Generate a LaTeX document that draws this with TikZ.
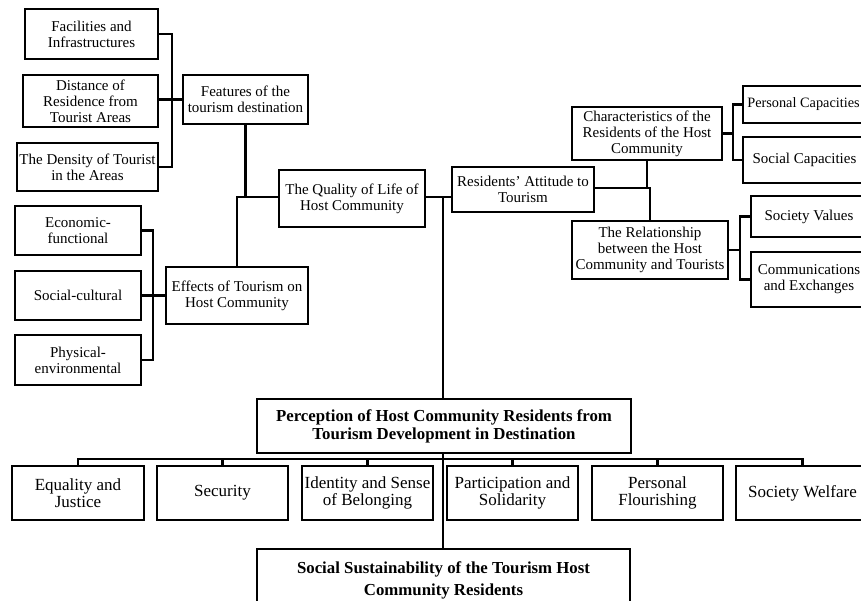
\documentclass[tikz,border=0pt]{standalone}
\usepackage{fontspec}
\setmainfont{Liberation Serif}
\begin{document}
\begin{tikzpicture}[x=1pt,y=-1pt,
  box/.style={draw=black,line width=1.7pt,inner sep=0pt,align=center,fill=white},
  topbox/.style={box,font=\fontsize{15}{16}\selectfont},
  subbox/.style={box,font=\fontsize{17}{17.5}\selectfont,minimum width=131pt,minimum height=54pt},
  boldbox/.style={box,font=\fontsize{16.8}{18}\selectfont\bfseries},
  link/.style={draw=black,line width=2.3pt}]
\useasboundingbox (0,0) rectangle (861,601);
\clip (0,0) rectangle (861,601);
% left upper group
\node[topbox,minimum width=133pt,minimum height=50pt] (fac) at (91.5,34) {Facilities and\\Infrastructures};
\node[topbox,minimum width=135pt,minimum height=52pt] (dist) at (90.5,101) {Distance of\\Residence from\\Tourist Areas};
\node[topbox,minimum width=141pt,minimum height=48pt] (dens) at (87.5,167) {The Density of Tourist\\in the Areas};
\node[topbox,minimum width=125pt,minimum height=49pt] (feat) at (245.5,99.5) {Features of the\\tourism destination};
% left lower group
\node[topbox,minimum width=126pt,minimum height=49pt] (econ) at (78,230.5) {Economic-\\functional};
\node[topbox,minimum width=126pt,minimum height=49pt] (socc) at (78,295.5) {Social-cultural};
\node[topbox,minimum width=126pt,minimum height=50pt] (phys) at (78,360) {Physical-\\environmental};
\node[topbox,minimum width=142pt,minimum height=57pt] (eff) at (237,295.5) {Effects of Tourism on\\Host Community};
% centre
\node[topbox,minimum width=146pt,minimum height=57pt] (qual) at (352,198.5) {The Quality of Life of\\Host Community};
\node[topbox,minimum width=142pt,minimum height=45pt] (res) at (523,189.5) {Residents’ Attitude to\\Tourism};
% right group
\node[topbox,minimum width=150pt,minimum height=53pt] (char) at (647,133.5) {Characteristics of the\\Residents of the Host\\Community};
\node[topbox,minimum width=156pt,minimum height=58pt] (rel) at (650,250) {The Relationship\\between the Host\\Community and Tourists};
\node[topbox,font=\fontsize{14.3}{16}\selectfont,minimum width=121pt,minimum height=37pt] (pers) at (803.5,104.5) {Personal Capacities};
\node[topbox,minimum width=123pt,minimum height=46pt] (socap) at (804.5,160) {Social Capacities};
\node[topbox,minimum width=116pt,minimum height=41pt] (sv) at (809,216.5) {Society Values};
\node[topbox,minimum width=116pt,minimum height=55pt] (comm) at (809,279.5) {Communications\\and Exchanges};
% bottom
\node[boldbox,minimum width=374pt,minimum height=54pt] (perc) at (444,426) {Perception of Host Community Residents from\\Tourism Development in Destination};
\node[subbox,minimum width=132pt] (eq) at (78,493) {Equality and\\Justice};
\node[subbox] (sec) at (222.5,493) {Security};
\node[subbox] (idn) at (367.5,493) {Identity and Sense\\of Belonging};
\node[subbox] (par) at (512.5,493) {Participation and\\Solidarity};
\node[subbox] (pf) at (657.5,493) {Personal\\Flourishing};
\node[subbox,minimum width=133pt] (sw) at (802.5,493) {Society Welfare};
\node[font=\fontsize{16.8}{22}\selectfont\bfseries,draw=black,line width=1.7pt,inner sep=0pt,align=center,minimum width=373pt,minimum height=62pt] (sust) at (443.5,580) {Social Sustainability of the Tourism Host\\Community Residents};
% junction coordinates
\coordinate (j1) at (172,99.5);
\coordinate (j2) at (153,295.5);
\coordinate (j3) at (733,133.5);
\coordinate (j4) at (740,250);
\coordinate (jq) at (443,197);
\coordinate (jr) at (0,188);
\coordinate (bus) at (0,459);
% connectors
\draw[link] (fac.east) -| (j1) |- (dens.east);
\draw[link] (dist.east |- feat.west) -- (feat.west);
\draw[link] (feat.south) -- (feat.south |- jq) -- (qual.west |- jq);
\draw[link] (eff.north) -- (eff.north |- jq) -- (qual.west |- jq);
\draw[link] (econ.east) -| (j2) |- (phys.east);
\draw[link] (socc.east) -- (eff.west);
\draw[link] (qual.east |- jq) -- (res.west |- jq);
\draw[link] (jq) -- (jq |- perc.north);
\draw[link] (jq |- perc.south) -- (jq |- sust.north);
\draw[link] (res.east |- jr) -- (rel.north |- jr) -- (rel.north);
\draw[link] (char.south) -- (char.south |- jr);
\draw[link] (pers.west) -| (j3) |- (socap.west);
\draw[link] (char.east) -- (j3);
\draw[link] (sv.west) -| (j4) |- (comm.west);
\draw[link] (rel.east) -- (j4);
\draw[link] (eq.north) -- (eq.north |- bus) -- (sw.north |- bus) -- (sw.north);
\foreach \n in {sec,idn,par,pf} \draw[link] (\n.north) -- (\n.north |- bus);
\end{tikzpicture}
\end{document}
